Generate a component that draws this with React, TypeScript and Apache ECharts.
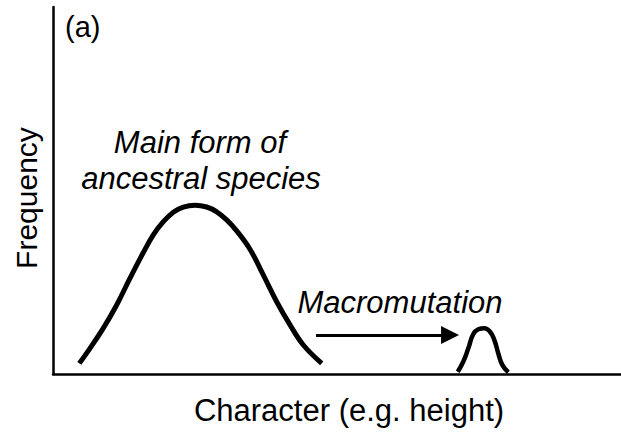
import React, { useEffect, useRef } from "react";
import * as echarts from "echarts";

// Main form of ancestral species (character vs frequency)
const mainX = [4.63, 6.51, 8.86, 11.21, 13.56, 15.9, 17.66, 19.42, 21.18, 22.94, 25.0, 27.06, 28.82, 30.58, 32.34, 34.68, 37.02, 39.38, 41.73, 44.07, 47.31];
const mainY = [2.9, 7.0, 12.5, 18.8, 26.1, 33.1, 37.9, 41.5, 44.1, 45.5, 46.0, 45.5, 44.2, 42.0, 39.0, 34.0, 27.0, 19.7, 13.4, 7.9, 2.9];

// Macromutant form
const mutX = [71.25, 72.24, 73.12, 74.0, 74.88, 75.93, 76.94, 77.69, 78.4, 79.1, 80.16];
const mutY = [0.6, 3.4, 7.0, 10.9, 12.2, 12.5, 11.5, 9.3, 5.6, 2.5, 0.5];

// Arrow (from, to) at a frequency level
const arrowFrom = [46.3, 10.6];
const arrowTo = [69.9, 10.6];

const FONT = "'Liberation Sans', Arial, Helvetica, sans-serif";

export default function App() {
  const ref = useRef<HTMLDivElement>(null);

  useEffect(() => {
    document.body.style.margin = "0";
    const chart = echarts.init(ref.current!, null, { renderer: "svg" });
    const axisLine = { show: true, lineStyle: { color: "#000", width: 2.5 } };
    chart.setOption({
      animation: false,
      backgroundColor: "#fff",
      grid: { left: 53, right: 0, top: 7, bottom: 59 },
      xAxis: {
        type: "value",
        min: 0,
        max: 100,
        axisLine,
        axisTick: { show: false },
        axisLabel: { show: false },
        splitLine: { show: false },
      },
      yAxis: {
        type: "value",
        min: 0,
        max: 100,
        axisLine,
        axisTick: { show: false },
        axisLabel: { show: false },
        splitLine: { show: false },
      },
      series: [
        {
          type: "line",
          data: mainX.map((x, i) => [x, mainY[i]]),
          smooth: 0.4,
          symbol: "none",
          lineStyle: { color: "#000", width: 5 },
        },
        {
          type: "line",
          data: mutX.map((x, i) => [x, mutY[i]]),
          smooth: true,
          symbol: "none",
          lineStyle: { color: "#000", width: 4.5 },
        },
        {
          type: "lines",
          coordinateSystem: "cartesian2d",
          symbol: ["none", "triangle"],
          symbolSize: [18, 18],
          lineStyle: { color: "#000", width: 3, opacity: 1 },
          data: [{ coords: [arrowFrom, arrowTo] }],
        },
      ],
      graphic: [
        {
          type: "text",
          x: 65,
          y: 27,
          style: { text: "(a)", font: `29px ${FONT}`, fill: "#000", align: "left", verticalAlign: "middle" },
        },
        {
          type: "text",
          x: 26,
          y: 198,
          rotation: Math.PI / 2,
          style: { text: "Frequency", font: `30px ${FONT}`, fill: "#000", align: "center", verticalAlign: "middle" },
        },
        {
          type: "text",
          x: 200,
          y: 142,
          style: { text: "Main form of", font: `italic 31px ${FONT}`, fill: "#000", align: "center", verticalAlign: "middle" },
        },
        {
          type: "text",
          x: 201,
          y: 178,
          style: { text: "ancestral species", font: `italic 31px ${FONT}`, fill: "#000", align: "center", verticalAlign: "middle" },
        },
        {
          type: "text",
          x: 400,
          y: 302,
          style: { text: "Macromutation", font: `italic 31px ${FONT}`, fill: "#000", align: "center", verticalAlign: "middle" },
        },
        {
          type: "text",
          x: 349,
          y: 410,
          style: { text: "Character (e.g. height)", font: `31px ${FONT}`, fill: "#000", align: "center", verticalAlign: "middle" },
        },
      ],
    });
    return () => chart.dispose();
  }, []);

  return <div ref={ref} style={{ width: 621, height: 433 }} />;
}
